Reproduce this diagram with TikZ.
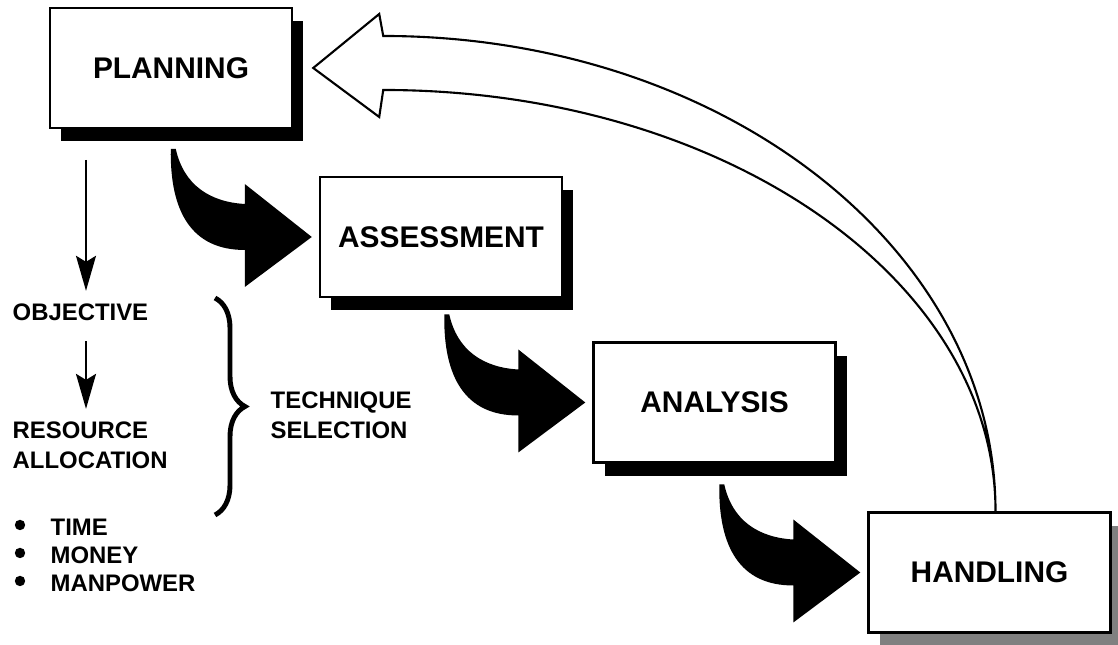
\documentclass[tikz,border=0pt]{standalone}
\usepackage{fontspec}
\setmainfont{Liberation Sans}
\usepackage{tikz}
\usetikzlibrary{
    arrows.meta,
    calc,
    shadows,
    decorations.pathreplacing
}

\begin{document}
\begin{tikzpicture}[
    stage/.style={draw, line width=0.7pt, fill=white,
        minimum width=2.42cm, minimum height=1.2cm, inner sep=0pt,
        font=\fontsize{8.5}{10}\selectfont\bfseries,
        drop shadow={shadow xshift=0.11cm, shadow yshift=-0.135cm,
            fill=#1, draw=none, opacity=1}},
    stage/.default=black,
    side/.style={inner sep=0pt, anchor=west, align=left,
        font=\fontsize{6.8}{8.5}\selectfont\bfseries},
    vline/.style={line width=0.6pt, shorten >=0.12cm,
        -{Stealth[length=0.35cm, width=0.2cm, inset=0.06cm]}}
]

\useasboundingbox (0,0) rectangle (11.18,6.45);

% Stages
\node[stage] (planning) at (1.71,5.77) {PLANNING};
\node[stage] (assessment) at (4.41,4.08) {ASSESSMENT};
\node[stage] (analysis) at (7.145,2.425) {ANALYSIS};
\node[stage=black!50] (handling) at (9.895,0.725) {HANDLING};

% Curved block arrows between stages (tip at the next box)
\coordinate (tipa) at ([xshift=-0.07cm]assessment.west);
\coordinate (tipb) at ([xshift=-0.07cm]analysis.west);
\coordinate (tipc) at ([xshift=-0.07cm]handling.west);
\foreach \t in {tipa,tipb,tipc}
    \fill[shift={(\t)}] (-1.41,0.88) .. controls (-1.42,0.25) and (-1.20,-0.13) .. (-0.67,-0.13)
        -- (-0.67,-0.50) -- (0,0) -- (-0.67,0.53) -- (-0.67,0.33)
        .. controls (-1.02,0.35) and (-1.28,0.52) .. (-1.36,0.88) -- cycle;

% Feedback arrow back to planning
\coordinate (rettail) at ([xshift=0.06cm]handling.north);
\coordinate (rettip) at ([xshift=0.2cm]planning.east);
\draw[line width=0.6pt, fill=white]
    (rettail) .. controls ($(rettail)+(0,2.63)$) and ($(rettip)+(4.09,0.32)$) .. ($(rettip)+(0.70,0.32)$)
    -- ($(rettip)+(0.66,0.54)$) -- (rettip) -- ($(rettip)+(0.66,-0.49)$) -- ($(rettip)+(0.70,-0.22)$)
    .. controls ($(rettip)+(4.09,-0.22)$) and ($(rettail)+(0,2.33)$) .. (rettail) -- cycle;

% Planning steps
\coordinate (objtop) at (0.86,4.85);
\node[side] (objective) at (0.12,3.33) {OBJECTIVE};
\node[side] (resource) at (0.12,2.00) {RESOURCE\\ALLOCATION};
\draw[vline] (objtop) -- (objtop |- objective.north);
\draw[vline, shorten <=0.2cm] (objtop |- objective.south) -- (objtop |- resource.north);

% Resources
\node[side] (time) at (0.50,1.18) {TIME};
\node[side] (money) at (0.50,0.90) {MONEY};
\node[side] (manpower) at (0.50,0.62) {MANPOWER};
\foreach \n in {time,money,manpower}
    \fill ([xshift=-0.30cm, yshift=0.02cm]\n.west) circle (0.052);

% Brace
\coordinate (bracetop) at (2.15,3.47);
\coordinate (bracebot) at (2.15,1.30);
\draw[line width=1.4pt, decorate, decoration={brace, amplitude=0.3cm}] (bracetop) -- (bracebot);
\node[side] (technique) at (2.70,2.30) {TECHNIQUE\\SELECTION};

\end{tikzpicture}
\end{document}
